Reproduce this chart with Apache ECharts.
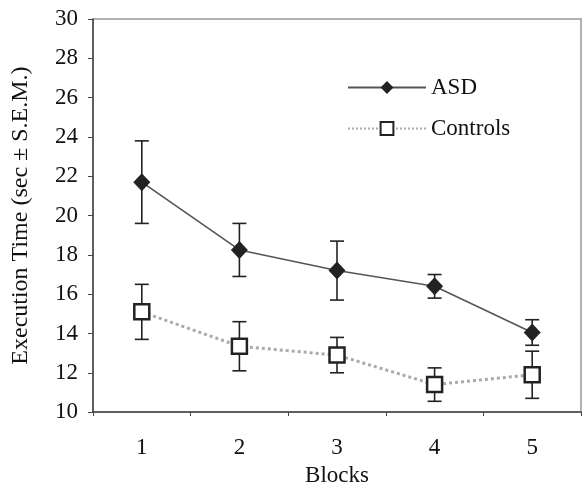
<!DOCTYPE html>
<html>
<head>
<meta charset="utf-8">
<script src="https://cdn.jsdelivr.net/npm/echarts@6/dist/echarts.min.js"></script>
<style>
  html, body { margin: 0; padding: 0; background: #fff; }
  #main { width: 582px; height: 492px; }
</style>
</head>
<body>
<div id="main"></div>
<script>
// values
var blocks = ['1', '2', '3', '4', '5'];
var asdMean = [21.7, 18.25, 17.2, 16.4, 14.05];
var asdSem = [2.1, 1.35, 1.5, 0.6, 0.65];
var ctrlMean = [15.1, 13.35, 12.9, 11.4, 11.9];
var ctrlSem = [1.4, 1.25, 0.9, 0.85, 1.2];
var yTicks = [10, 12, 14, 16, 18, 20, 22, 24, 26, 28, 30];

var font = 'Liberation Serif, Times New Roman, serif';

function errData(mean, sem) {
  var out = [];
  for (var i = 0; i < mean.length; i++) {
    out.push([i, mean[i] - sem[i], mean[i] + sem[i]]);
  }
  return out;
}

function renderErr(params, api) {
  var lo = api.coord([api.value(0), api.value(1)]);
  var hi = api.coord([api.value(0), api.value(2)]);
  var w = 7;
  var st = { stroke: '#222', lineWidth: 1.6 };
  return {
    type: 'group',
    children: [
      { type: 'line', shape: { x1: lo[0], y1: lo[1], x2: hi[0], y2: hi[1] }, style: st },
      { type: 'line', shape: { x1: lo[0] - w, y1: lo[1], x2: lo[0] + w, y2: lo[1] }, style: st },
      { type: 'line', shape: { x1: hi[0] - w, y1: hi[1], x2: hi[0] + w, y2: hi[1] }, style: st }
    ]
  };
}

var chartDom = document.getElementById('main');
var myChart = echarts.init(chartDom);
var option;

option = {
  animation: false,
  textStyle: { fontFamily: font },
  grid: {
    left: 93, right: 1, top: 19, bottom: 75,
    show: true, borderColor: '#999', borderWidth: 1.5
  },
  legend: {
    data: ['ASD', 'Controls'],
    orient: 'vertical',
    left: 342,
    top: 71,
    itemWidth: 78,
    itemHeight: 16,
    itemGap: 18,
    textStyle: { fontFamily: font, fontSize: 23, color: '#111' }
  },
  xAxis: {
    type: 'category',
    data: blocks,
    name: 'Blocks',
    nameLocation: 'middle',
    nameGap: 49,
    nameTextStyle: { fontFamily: font, fontSize: 23, color: '#111' },
    axisLine: { lineStyle: { color: '#444', width: 1.5 } },
    axisTick: { show: true, length: 4, lineStyle: { color: '#444' } },
    axisLabel: { fontFamily: font, fontSize: 23, color: '#111', margin: 24 }
  },
  yAxis: {
    type: 'value',
    min: yTicks[0],
    max: yTicks[yTicks.length - 1],
    interval: 2,
    name: 'Execution Time (sec \u00b1 S.E.M.)',
    nameLocation: 'middle',
    nameGap: 60,
    nameTextStyle: { fontFamily: font, fontSize: 24, color: '#111' },
    axisLine: { show: true, lineStyle: { color: '#444', width: 1.5 } },
    axisTick: { show: true, length: 5, lineStyle: { color: '#444' } },
    splitLine: { show: false },
    axisLabel: { fontFamily: font, fontSize: 23, color: '#111', margin: 15 }
  },
  series: [
    {
      name: 'ASD err',
      type: 'custom',
      renderItem: renderErr,
      data: errData(asdMean, asdSem),
      z: 1
    },
    {
      name: 'Controls err',
      type: 'custom',
      renderItem: renderErr,
      data: errData(ctrlMean, ctrlSem),
      z: 1
    },
    {
      name: 'ASD',
      type: 'line',
      data: asdMean,
      symbol: 'diamond',
      symbolSize: [17, 18],
      itemStyle: { color: '#222' },
      lineStyle: { color: '#555', width: 1.6 },
      z: 3
    },
    {
      name: 'Controls',
      type: 'line',
      data: ctrlMean,
      symbol: 'rect',
      symbolSize: 15,
      itemStyle: { color: '#fff', borderColor: '#222', borderWidth: 2.5 },
      lineStyle: { color: '#aaa', width: 3, type: 'dotted' },
      z: 3
    }
  ]
};

option && myChart.setOption(option);
</script>
</body>
</html>
